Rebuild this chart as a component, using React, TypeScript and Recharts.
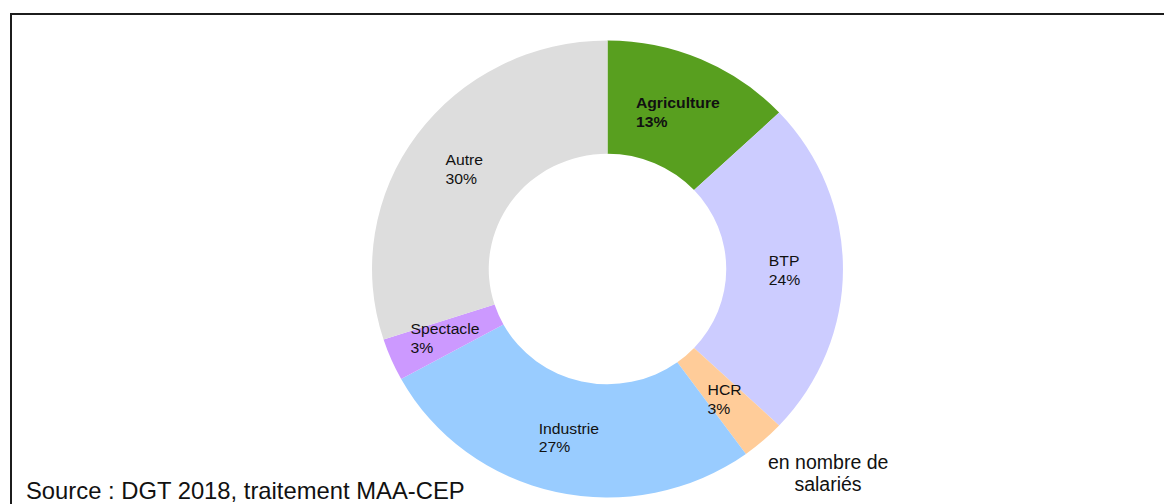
import { PieChart, Pie, Cell } from "recharts"

const sectors = ["Agriculture", "BTP", "HCR", "Industrie", "Spectacle", "Autre"]
const shares = [13, 24, 3, 27, 3, 30]
const colors = ["#589f1f", "#ccccff", "#ffcc99", "#99ccff", "#cc99ff", "#dddddd"]
const boldSectors = ["Agriculture"]

const FONT = '"Liberation Sans", Arial, sans-serif'
const RADIAN = Math.PI / 180
const CX = 607.5
const CY = 269

const data = sectors.map((name, i) => ({ name, value: shares[i] }))

function measure(text: string, size: number, bold: boolean) {
  const ctx = document.createElement("canvas").getContext("2d")
  if (!ctx) return text.length * size * 0.55
  ctx.font = `${bold ? "bold " : ""}${size}px ${FONT}`
  return ctx.measureText(text).width
}

// label block centred on the slice's mid radius, lines left-aligned
function SliceLabel(props: any) {
  const { cx, cy, midAngle, innerRadius, outerRadius, name, value } = props
  const r = (innerRadius + outerRadius) / 2
  const mx = cx + r * Math.cos(-midAngle * RADIAN)
  const my = cy + r * Math.sin(-midAngle * RADIAN)
  const bold = boldSectors.includes(name)
  const size = 15.5
  const lines = [name, `${value}%`]
  const w = Math.max(...lines.map((l) => measure(l, size, bold)))
  const x = mx - w / 2
  return (
    <text
      x={x}
      y={my - 3}
      fill="#111"
      fontFamily={FONT}
      fontSize={size}
      fontWeight={bold ? "bold" : "normal"}
      textAnchor="start"
    >
      <tspan x={x} dy={0}>{lines[0]}</tspan>
      <tspan x={x} dy={19}>{lines[1]}</tspan>
    </text>
  )
}

export default function App() {
  return (
    <div
      style={{
        position: "absolute",
        left: 0,
        top: 0,
        width: 1164,
        height: 504,
        overflow: "hidden",
        background: "#fff",
        fontFamily: FONT,
      }}
    >
      <div
        style={{
          position: "absolute",
          left: 10,
          top: 13,
          width: 1300,
          height: 700,
          border: "2px solid #1c1c1c",
        }}
      />
      <div
        style={{
          position: "absolute",
          left: 0,
          top: 0,
          transform: "scale(1.015, 0.985)",
          transformOrigin: `${CX}px ${CY}px`,
        }}
      >
        <PieChart width={1164} height={504} margin={{ top: 0, right: 0, bottom: 0, left: 0 }}>
          <Pie
            data={data}
            dataKey="value"
            nameKey="name"
            cx={CX}
            cy={CY}
            innerRadius={117}
            outerRadius={232}
            startAngle={90}
            endAngle={-270}
            stroke="none"
            label={SliceLabel}
            labelLine={false}
            isAnimationActive={false}
          >
            {data.map((d, i) => (
              <Cell key={d.name} fill={colors[i]} />
            ))}
          </Pie>
        </PieChart>
      </div>
      <div
        style={{
          position: "absolute",
          left: 768,
          top: 451,
          width: 120,
          textAlign: "center",
          fontSize: 19.5,
          lineHeight: "22px",
          color: "#111",
          whiteSpace: "nowrap",
        }}
      >
        en nombre de
        <br />
        salariés
      </div>
      <div
        style={{
          position: "absolute",
          left: 26,
          top: 477,
          fontSize: 23.8,
          lineHeight: "28px",
          color: "#111",
          whiteSpace: "nowrap",
        }}
      >
        Source : DGT 2018, traitement MAA-CEP
      </div>
    </div>
  )
}
